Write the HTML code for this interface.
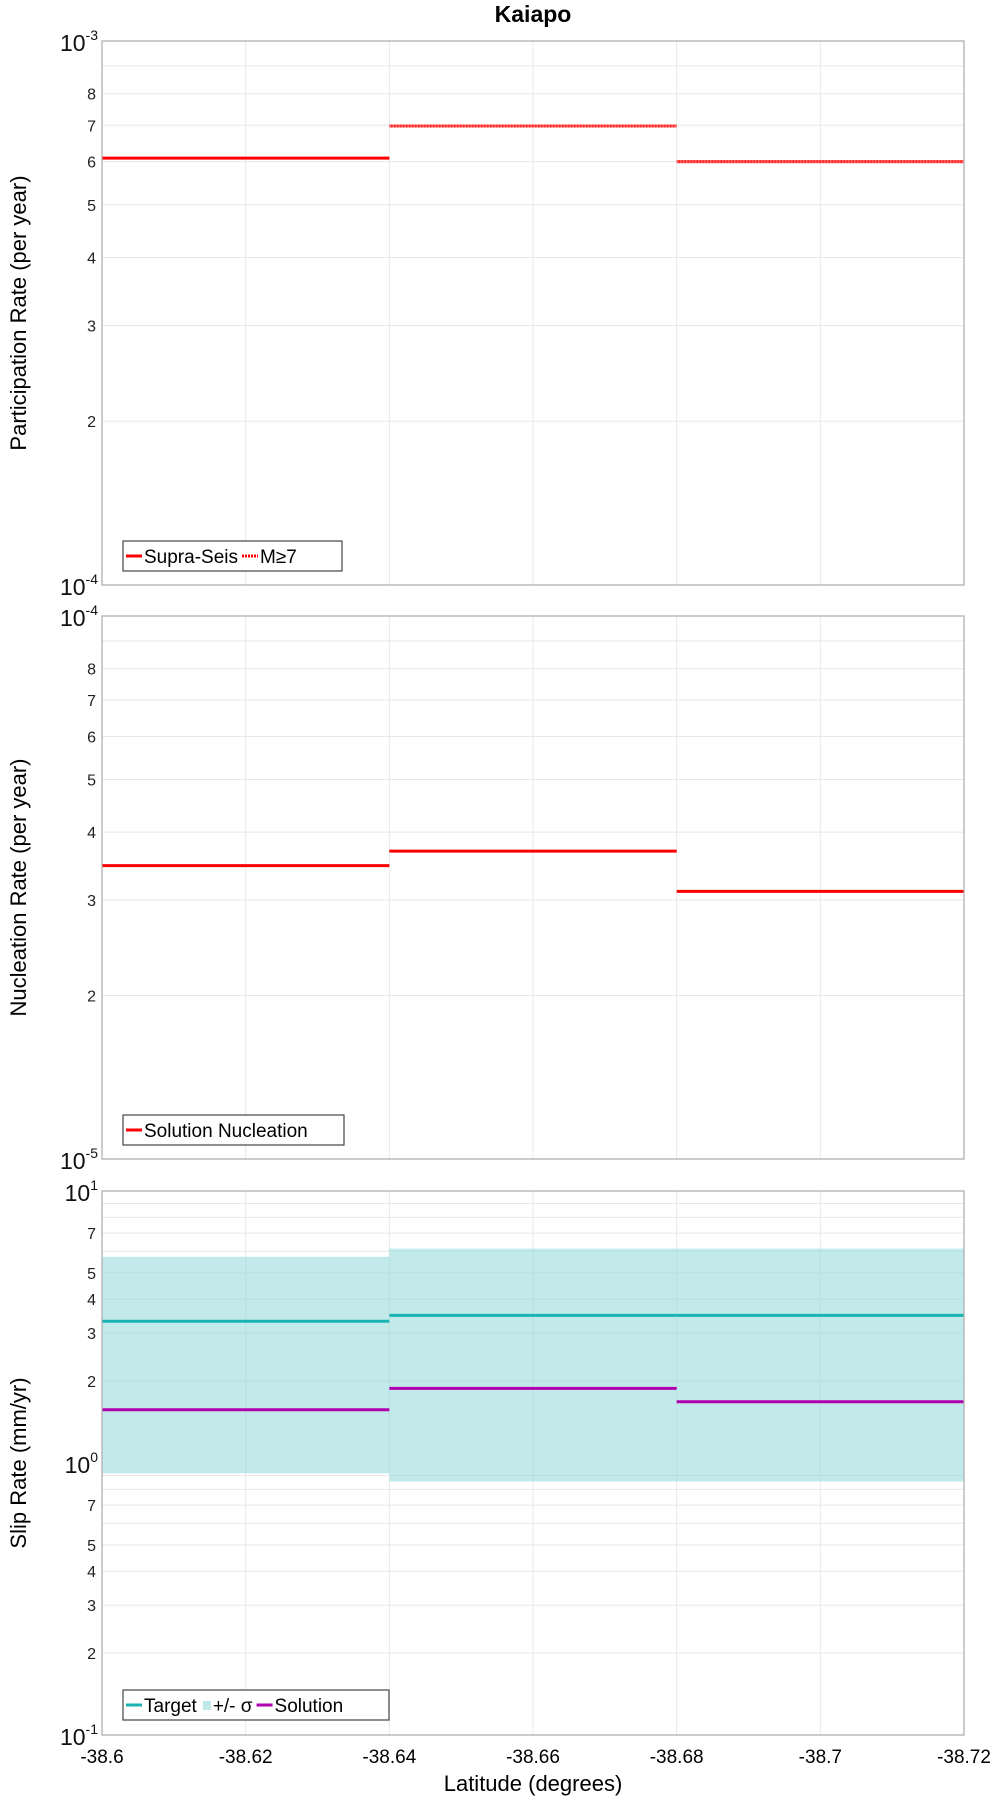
<!DOCTYPE html>
<html><head><meta charset="utf-8"><style>
body{margin:0;background:#fff}
svg{display:block;font-family:"Liberation Sans","DejaVu Sans",sans-serif}
</style></head><body>
<svg id="c" width="1000" height="1800" xmlns="http://www.w3.org/2000/svg">
<text x="533" y="22" text-anchor="middle" font-size="23" font-weight="bold">Kaiapo</text>
</svg>
<script>
const latEdges = [-38.6, -38.64, -38.68, -38.72];
const xTicks = [-38.6, -38.62, -38.64, -38.66, -38.68, -38.7, -38.72];
const xTickLabels = ["-38.6","-38.62","-38.64","-38.66","-38.68","-38.7","-38.72"];
const supraSeis = [6.09e-4, 6.98e-4, 6.0e-4];
const m7 = [null, 6.98e-4, 6.0e-4];
const nucleation = [3.47e-5, 3.69e-5, 3.11e-5];
const slipTarget = [3.32, 3.49, 3.49];
const slipUpper = [5.73, 6.14, 6.14];
const slipLower = [0.916, 0.855, 0.855];
const slipSolution = [1.57, 1.88, 1.68];
const NS = "http://www.w3.org/2000/svg";
const svg = document.getElementById('c');
const L = 102, R = 964;
function el(tag, attrs, parent){const e=document.createElementNS(NS,tag);for(const k in attrs)e.setAttribute(k,attrs[k]);(parent||svg).appendChild(e);return e;}
const xs = v => L + (v - latEdges[0]) / (latEdges[3] - latEdges[0]) * (R - L);
function panel(top, bot, lo, hi, labels, name, title){
  const ys = v => bot - (Math.log10(v) - Math.log10(lo)) / (Math.log10(hi) - Math.log10(lo)) * (bot - top);
  const g = el('g', {});
  
  
  for (let d = lo; d < hi*0.99; d *= 10) for (let m = 2; m <= 9; m++) {
    const y = ys(d*m);
    const ln = el('line', {x1:L, x2:R, y1:y, y2:y, stroke:'#e8e8e8', 'stroke-width':1}, g);
    
    
    if (labels.includes(m)) {
      const t = el('text', {x:L-6, y:y+6, 'text-anchor':'end', 'font-size':16, fill:'#222'}, g);
      
      
      t.textContent = m;
    }
  }
  xTicks.forEach(v => {
    const ln = el('line', {x1:xs(v), x2:xs(v), y1:top, y2:bot, stroke:'#e8e8e8', 'stroke-width':1}, g);
    
    
  });
  for (let d = lo; d <= hi*1.01; d *= 10) {
    const y = ys(d);
    const t = el('text', {x:L-4, y:y+10, 'text-anchor':'end', 'font-size':23, fill:'#111'}, g);
    
    
    t.innerHTML = '10<tspan dy="-11" font-size="14">' + Math.round(Math.log10(d)) + '</tspan>';
  }
  const yt = el('text', {x:0, y:0, 'text-anchor':'middle', 'font-size':22, transform:`translate(26 ${(top+bot)/2}) rotate(-90)`}, g);
  
  
  yt.textContent = title;
  return {g, ys, frame:() => { const f = el('rect', {x:L, y:top, width:R-L, height:bot-top, fill:'none', stroke:'#aaa', 'stroke-width':1.2}, g);   }};
}
function steps(p, vals, color, name, dash){
  vals.forEach((v,i) => {
    if (v == null) return;
    const y = p.ys(v);
    const a = {x1:xs(latEdges[i]), x2:xs(latEdges[i+1]), y1:y, y2:y, stroke:color, 'stroke-width':3};
    if (dash) a['stroke-dasharray'] = '2 1';
    const ln = el('line', a, p.g);
    
    
  });
}
function legend(p, x, y, w, items){
  const g = el('g', {}, p.g);
  
  
  el('rect', {x, y, width:w, height:30, fill:'#fff', stroke:'#444', 'stroke-width':1.2}, g);
  let cx = x + 3;
  items.forEach(it => {
    if (it.box) el('rect', {x:cx+2, y:y+11, width:8, height:9, fill:it.color}, g);
    else el('line', {x1:cx, x2:cx+16, y1:y+15, y2:y+15, stroke:it.color, 'stroke-width':3, 'stroke-dasharray':it.dash||''}, g);
    const t = el('text', {x:cx+(it.box?12:18), y:y+22, 'font-size':19}, g);
    
    
    t.textContent = it.label;
    cx += (it.box?12:18) + t.getComputedTextLength() + 4;
  });
}
const p1 = panel(41, 585, 1e-4, 1e-3, [2,3,4,5,6,7,8], 'participation', 'Participation Rate (per year)');
steps(p1, supraSeis, '#f00', 'supra-seis');
steps(p1, m7, '#f66', 'm7', true);
p1.frame();
legend(p1, 123, 541, 219, [{color:'#f00',label:'Supra-Seis'},{color:'#f00',label:'M≥7',dash:'2 1'}]);
const p2 = panel(616, 1159, 1e-5, 1e-4, [2,3,4,5,6,7,8], 'nucleation', 'Nucleation Rate (per year)');
steps(p2, nucleation, '#f00', 'nucleation');
p2.frame();
legend(p2, 123, 1115, 221, [{color:'#f00',label:'Solution Nucleation'}]);
const p3 = panel(1191, 1735, 0.1, 10, [2,3,4,5,7], 'slip', 'Slip Rate (mm/yr)');
slipUpper.forEach((u,i) => {
  const r = el('rect', {x:xs(latEdges[i]), width:xs(latEdges[i+1])-xs(latEdges[i]), y:p3.ys(u), height:p3.ys(slipLower[i])-p3.ys(u), fill:'#8fd8d8', 'fill-opacity':0.55}, p3.g);
  
  
});
steps(p3, slipTarget, '#1ab3b3', 'target');
steps(p3, slipSolution, '#b000b0', 'solution');
p3.frame();
legend(p3, 123, 1690, 266, [{color:'#1ab3b3',label:'Target'},{color:'#bfe9e9',label:'+/- σ',box:true},{color:'#b000b0',label:'Solution'}]);
xTicks.forEach((v,i) => {
  const t = el('text', {x:xs(v), y:1763, 'text-anchor':'middle', 'font-size':19});
  
  
  t.textContent = xTickLabels[i];
});
const xt = el('text', {x:533, y:1791, 'text-anchor':'middle', 'font-size':22});


xt.textContent = 'Latitude (degrees)';
</script>
</body></html>
